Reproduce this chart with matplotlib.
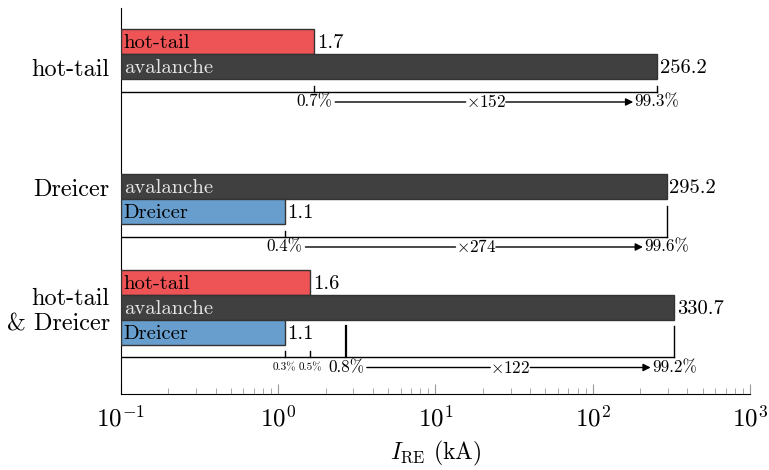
import matplotlib
matplotlib.use("Agg")
import matplotlib.pyplot as plt
import numpy as np

plt.rcParams["font.family"] = ["cmr10", "DejaVu Serif"]
plt.rcParams["mathtext.fontset"] = "cm"
plt.rcParams["axes.formatter.use_mathtext"] = True
plt.rcParams["axes.unicode_minus"] = False

# ── Data ─────────────────────────────────────────────────────────────────────
GROUPS    = ["hot-tail", "Dreicer", "hot-tail\n& Dreicer"]
HOTTAIL   = [1.7, np.nan, 1.6]
AVALANCHE = [256.2, 295.2, 330.7]
DREICER   = [np.nan, 1.1, 1.1]
SEED_PCT  = [0.7, 0.4, 0.8]
AVAL_PCT  = [99.3, 99.6, 99.2]
FACTOR    = [152, 274, 122]
# individual seed shares in the combined scenario
SUB_HOTTAIL_PCT = 0.5
SUB_DREICER_PCT = 0.3

C_HOT  = "#EE5455"
C_AVAL = "#404040"
C_DRE  = "#689ECD"
C_EDGE = "#333333"

# layout (bar units, y axis inverted)
BASE = [1.36, 6.16, 10.98]
H = 1.0
FS_BAR = 14.8
FS_ANN = 12.3


def bar(ax, y, val, color, label, txtcolor):
    ax.barh(y, val - 0.1, left=0.1, height=H, color=color,
            edgecolor=C_EDGE, linewidth=1.0, zorder=3)
    ax.annotate(label, xy=(0.1, y), xytext=(2, -1), textcoords="offset points",
                va="center", ha="left", fontsize=FS_BAR, color=txtcolor, zorder=4)
    ax.annotate(f"{val:.1f}", xy=(val, y), xytext=(2, -1), textcoords="offset points",
                va="center", ha="left", fontsize=FS_BAR, color="black", zorder=4)


def main():
    fig = plt.figure(figsize=(7.69, 4.70), dpi=100)
    ax = fig.add_axes([0.1573, 0.1617, 0.9753 - 0.1573, 0.983 - 0.1617])
    ax.set_xscale("log")
    ax.set_xlim(0.1, 1000)
    ax.set_ylim(15.44, 0)

    for i, base in enumerate(BASE):
        ht, av, dr = HOTTAIL[i], AVALANCHE[i], DREICER[i]
        has_ht = not np.isnan(ht)
        has_dr = not np.isnan(dr)
        if has_ht:
            bar(ax, base, ht, C_HOT, "hot-tail", "black")
        bar(ax, base + 1, av, C_AVAL, "avalanche", "#e8e8e8")
        if has_dr:
            bar(ax, base + 2, dr, C_DRE, "Dreicer", "black")

        yb = base + (3 if has_dr else 2)
        ytop = base + 1.5 + 0.25
        ax.plot([0.1, av], [yb, yb], color="black", lw=1.0, zorder=3)
        ax.plot([av, av], [ytop, yb], color="black", lw=1.0, zorder=3)

        seeds = [v for v in (ht, dr) if not np.isnan(v)]
        for s in seeds:
            ax.plot([s, s], [yb - 0.25, yb], color="black", lw=1.0, zorder=3)
        seed_total = sum(seeds)
        yt = yb + 0.40
        if len(seeds) > 1:
            ax.plot([seed_total, seed_total], [ytop, yb], color="black", lw=1.6, zorder=3)
            ax.text(dr, yt, f"{SUB_DREICER_PCT}%", ha="center", va="center", fontsize=8)
            ax.text(ht, yt, f"{SUB_HOTTAIL_PCT}%", ha="center", va="center", fontsize=8)

        t_left = ax.text(seed_total, yt, f"{SEED_PCT[i]}%", ha="center", va="center",
                         fontsize=FS_ANN)
        t_right = ax.text(av, yt, f"{AVAL_PCT[i]}%", ha="center", va="center",
                          fontsize=FS_ANN)
        t_mid = ax.text(np.sqrt(seed_total * av), yt, rf"$\times${FACTOR[i]}",
                        ha="center", va="center", fontsize=FS_ANN)
        ax.annotate("", xy=(0, 0.5), xycoords=t_mid,
                    xytext=(1, 0.5), textcoords=t_left,
                    arrowprops=dict(arrowstyle="-", color="black", lw=1.0,
                                    shrinkA=2, shrinkB=0))
        ax.annotate("", xy=(0, 0.5), xycoords=t_right,
                    xytext=(1, 0.5), textcoords=t_mid,
                    arrowprops=dict(arrowstyle="-|>", color="black", lw=1.0,
                                    shrinkA=0, shrinkB=1, mutation_scale=11))

    ax.set_yticks([b + 1 for b in BASE])
    ax.set_yticklabels(GROUPS, fontsize=17.5, ha="right", multialignment="right")
    ax.tick_params(axis="y", length=0, pad=8)

    ax.tick_params(axis="x", which="both", direction="in", colors="#999999",
                   labelcolor="black", labelsize=18, pad=8)
    ax.tick_params(axis="x", which="major", length=7)
    ax.tick_params(axis="x", which="minor", length=4)
    ax.set_xlabel(r"$I_\mathrm{RE}$ (kA)", fontsize=17, labelpad=6)

    ax.spines["top"].set_visible(False)
    ax.spines["right"].set_visible(False)

    fig.savefig("out.png", dpi=100)
    plt.close(fig)


if __name__ == "__main__":
    main()
